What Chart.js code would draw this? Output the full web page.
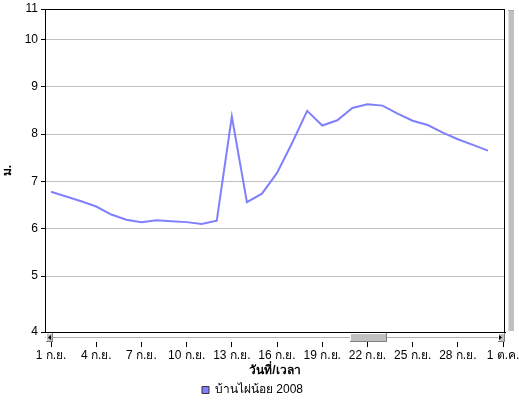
<!DOCTYPE html>
<html>
<head>
<meta charset="utf-8">
<script src="https://cdn.jsdelivr.net/npm/chart.js@4/dist/chart.umd.min.js"></script>
<style>
  html, body { margin: 0; padding: 0; background: #fff; }
  #wrap { width: 519px; height: 402px; position: relative; }
</style>
</head>
<body>
<div id="wrap"><canvas id="chart"></canvas></div>
<script>
// water level per day, 1-30 Sep 2008
const days = [
    "1 ก.ย.", "2 ก.ย.", "3 ก.ย.", "4 ก.ย.", "5 ก.ย.", "6 ก.ย.", "7 ก.ย.", "8 ก.ย.", "9 ก.ย.", "10 ก.ย.",
    "11 ก.ย.", "12 ก.ย.", "13 ก.ย.", "14 ก.ย.", "15 ก.ย.", "16 ก.ย.", "17 ก.ย.", "18 ก.ย.", "19 ก.ย.", "20 ก.ย.",
    "21 ก.ย.", "22 ก.ย.", "23 ก.ย.", "24 ก.ย.", "25 ก.ย.", "26 ก.ย.", "27 ก.ย.", "28 ก.ย.", "29 ก.ย.", "30 ก.ย."
];
const levels = [
    6.78, 6.68, 6.58, 6.47, 6.30, 6.19, 6.14, 6.18, 6.16, 6.14,
    6.10, 6.17, 8.37, 6.56, 6.74, 7.18, 7.81, 8.49, 8.18, 8.29,
    8.55, 8.63, 8.60, 8.43, 8.28, 8.19, 8.03, 7.89, 7.77, 7.65
];
const seriesName = "บ้านไผ่น้อย 2008";

const xTickLabels = ["1 ก.ย.", "4 ก.ย.", "7 ก.ย.", "10 ก.ย.", "13 ก.ย.", "16 ก.ย.", "19 ก.ย.", "22 ก.ย.", "25 ก.ย.", "28 ก.ย.", "1 ต.ค."];
const yTickValues = [3.82, 5, 6, 7, 8, 9, 10, 10.64];
const yTickLabels = ["4", "5", "6", "7", "8", "9", "10", "11"];

Chart.defaults.font.family = "Tahoma, 'Liberation Sans', Arial, sans-serif";
Chart.defaults.font.size = 12;
Chart.defaults.color = "#000";

// plot frame and the two scroll bars of the original viewer
const decorations = {
    id: "decorations",
    afterDatasetsDraw(chart) {
        const { ctx, chartArea: a } = chart;
        ctx.save();
        ctx.strokeStyle = "#000";
        ctx.lineWidth = 1;
        ctx.strokeRect(Math.round(a.left) + 0.5, Math.round(a.top) + 0.5,
            Math.round(a.right - a.left) - 1, Math.round(a.bottom - a.top));
        ctx.restore();
    },
    afterDraw(chart) {
        const { ctx, chartArea: a } = chart;
        const l = Math.round(a.left), r = Math.round(a.right), b = Math.round(a.bottom);
        const bevel = (x, y, w, h) => {
            ctx.fillStyle = "#c0c0c0";
            ctx.fillRect(x, y, w, h);
            ctx.fillStyle = "#fff";
            ctx.fillRect(x, y, w, 1);
            ctx.fillRect(x, y, 1, h);
            ctx.fillStyle = "#808080";
            ctx.fillRect(x, y + h - 1, w, 1);
            ctx.fillRect(x + w - 1, y, 1, h);
        };
        ctx.save();
        // horizontal bar
        const y0 = b + 1, h = 9;
        ctx.fillStyle = "#fff";
        ctx.fillRect(l, y0, r - l, h);
        ctx.fillStyle = "#b0b0b0";
        ctx.fillRect(l, y0 + 4, r - l, 1);
        bevel(l + 1, y0, 7, h);
        bevel(r - 7, y0, 7, h);
        bevel(350, y0, 37, h);
        ctx.fillStyle = "#000";
        ctx.beginPath();
        ctx.moveTo(l + 3, y0 + 4.5); ctx.lineTo(l + 6, y0 + 2); ctx.lineTo(l + 6, y0 + 7); ctx.fill();
        ctx.beginPath();
        ctx.moveTo(r - 3, y0 + 4.5); ctx.lineTo(r - 6, y0 + 2); ctx.lineTo(r - 6, y0 + 7); ctx.fill();
        // vertical bar
        const t = Math.round(a.top);
        ctx.fillStyle = "#c0c0c0";
        ctx.fillRect(r + 3, t + 1, 6, b - t - 2);
        ctx.fillStyle = "#a8a8a8";
        ctx.fillRect(r + 3, t + 1, 6, 1);
        ctx.fillStyle = "#e0e0e0";
        ctx.fillRect(r + 3, t + 2, 1, b - t - 3);
        ctx.restore();
    }
};

new Chart(document.getElementById("chart"), {
    type: "line",
    data: {
        datasets: [{
            label: seriesName,
            data: levels.map((v, i) => ({ x: i, y: v })),
            borderColor: "#8080ff",
            backgroundColor: "#8080ff",
            borderWidth: 2,
            pointRadius: 0,
            tension: 0
        }]
    },
    options: {
        responsive: true,
        maintainAspectRatio: false,
        animation: false,
        devicePixelRatio: 1,
        layout: { padding: { left: 0, top: 9, right: 14, bottom: 0 } },
        scales: {
            x: {
                type: "linear",
                min: -0.4,
                max: 30.13,
                afterBuildTicks: (scale) => {
                    scale.ticks = xTickLabels.map((t, i) => ({ value: i * 3 }));
                },
                afterFit: (scale) => {
                    scale.height = 46;
                    scale.paddingLeft = 0;
                    scale.paddingRight = 0;
                },
                ticks: {
                    autoSkip: false,
                    maxRotation: 0,
                    padding: 1,
                    callback: (v, i) => xTickLabels[i]
                },
                grid: { drawOnChartArea: false, tickLength: 15, tickColor: "#000" },
                border: { color: "#000" },
                title: { display: true, text: "วันที่/เวลา", font: { weight: "bold" }, padding: 0 }
            },
            y: {
                min: yTickValues[0],
                max: yTickValues[yTickValues.length - 1],
                afterBuildTicks: (scale) => {
                    scale.ticks = yTickValues.map((v) => ({ value: v }));
                },
                afterFit: (scale) => {
                    scale.width = 45;
                    scale.paddingTop = 0;
                    scale.paddingBottom = 0;
                },
                ticks: {
                    padding: 3,
                    callback: (v, i) => yTickLabels[i]
                },
                grid: {
                    tickLength: 4,
                    tickColor: "#000",
                    color: (c) => (c.index === 0 || c.index === yTickValues.length - 1) ? "rgba(0,0,0,0)" : "#c0c0c0"
                },
                border: { color: "#000" },
                title: { display: true, text: "ม.", font: { weight: "bold" }, padding: 0 }
            }
        },
        plugins: {
            legend: {
                position: "bottom",
                maxHeight: 24,
                labels: {
                    boxWidth: 7,
                    boxHeight: 7,
                    padding: 6,
                    generateLabels: (chart) => Chart.defaults.plugins.legend.labels.generateLabels(chart)
                        .map((item) => Object.assign(item, { strokeStyle: "#333", lineWidth: 1 }))
                }
            },
            tooltip: { enabled: false }
        }
    },
    plugins: [decorations]
});
</script>
</body>
</html>
